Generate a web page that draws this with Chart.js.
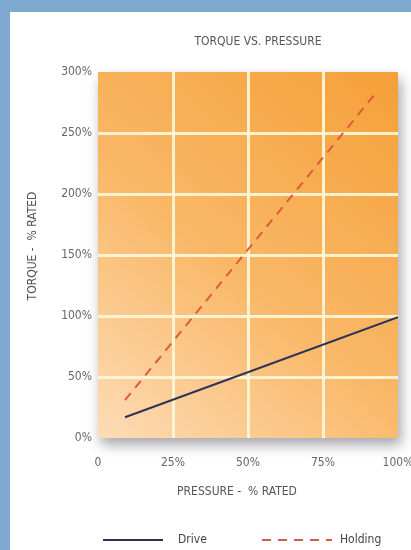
<!DOCTYPE html>
<html>
<head>
<meta charset="utf-8">
<script src="https://cdn.jsdelivr.net/npm/chart.js@4.4.1/dist/chart.umd.min.js"></script>
<style>
  html, body { margin: 0; padding: 0; background: #fff; overflow: hidden; }
  #topbar { position: absolute; left: 0; top: 0; width: 411px; height: 12px; background: #7faad0; }
  #leftbar { position: absolute; left: 0; top: 0; width: 10px; height: 550px; background: #7faad0; }
  #wrap { position: absolute; left: 0; top: 0; width: 411px; height: 550px; }
</style>
</head>
<body>
<div id="topbar"></div>
<div id="leftbar"></div>
<div id="wrap"><canvas id="myChart" width="411" height="550"></canvas></div>
<script>
// values (pressure % rated -> torque % rated)
var drivePressure = [9, 100];
var driveTorque = [17, 99];
var holdPressure = [9, 93];
var holdTorque = [31, 284];
var xTicks = [0, 25, 50, 75, 100];
var yTicks = [0, 50, 100, 150, 200, 250, 300];

var narrow = '"Liberation Sans Narrow", "DejaVu Sans Condensed", "Liberation Sans", sans-serif';
var grey = '#666';

function pts(xs, ys) {
  return xs.map(function(x, i) { return { x: x, y: ys[i] }; });
}

var backdrop = {
  id: 'backdrop',
  beforeDraw: function(chart) {
    var a = chart.chartArea, ctx = chart.ctx;
    ctx.save();
    ctx.shadowColor = 'rgba(60,60,70,0.45)';
    ctx.shadowBlur = 12;
    ctx.shadowOffsetX = 3;
    ctx.shadowOffsetY = 7;
    var g = ctx.createLinearGradient(a.left, a.bottom, a.right, a.top);
    g.addColorStop(0, '#fddcb6');
    g.addColorStop(0.45, '#f9b868');
    g.addColorStop(1, '#f5a038');
    ctx.fillStyle = g;
    ctx.fillRect(a.left, a.top, a.right - a.left, a.bottom - a.top);
    ctx.restore();
  },
  afterDraw: function(chart) {
    var ctx = chart.ctx;
    ctx.save();
    ctx.fillStyle = '#555';
    ctx.textBaseline = 'middle';
    ctx.textAlign = 'center';
    ctx.font = '12px ' + narrow;
    ctx.fillText('TORQUE VS. PRESSURE', 258, 42);
    ctx.fillText('PRESSURE -  % RATED', 237, 492);
    ctx.save();
    ctx.translate(33, 246);
    ctx.rotate(-Math.PI / 2);
    ctx.fillText('TORQUE -  % RATED', 0, 0);
    ctx.restore();

    // legend
    var ds = chart.data.datasets;
    ctx.lineWidth = 2;
    ctx.strokeStyle = ds[0].borderColor;
    ctx.beginPath(); ctx.moveTo(103, 540); ctx.lineTo(163, 540); ctx.stroke();
    ctx.strokeStyle = ds[1].borderColor;
    ctx.setLineDash(ds[1].borderDash);
    ctx.beginPath(); ctx.moveTo(262, 540); ctx.lineTo(332, 540); ctx.stroke();
    ctx.setLineDash([]);
    ctx.textAlign = 'left';
    ctx.fillStyle = '#444';
    ctx.fillText(ds[0].label, 178, 540);
    ctx.fillText(ds[1].label, 340, 540);
    ctx.restore();
  }
};

function gridColor(c) {
  var n = c.scale.ticks.length;
  if (c.index === 0 || c.index === n - 1) return 'rgba(0,0,0,0)';
  return 'rgba(255,246,214,0.95)';
}

new Chart('myChart', {
  type: 'line',
  data: {
    datasets: [{
      label: 'Drive',
      data: pts(drivePressure, driveTorque),
      borderColor: '#2c3258',
      borderWidth: 2,
      pointRadius: 0
    }, {
      label: 'Holding',
      data: pts(holdPressure, holdTorque),
      borderColor: '#df5a3c',
      borderWidth: 2,
      borderDash: [9, 7],
      pointRadius: 0
    }]
  },
  options: {
    responsive: false,
    animation: false,
    layout: { padding: { left: 0, right: 13, top: 72, bottom: 0 } },
    plugins: { legend: { display: false }, title: { display: false }, tooltip: { enabled: false } },
    scales: {
      x: {
        type: 'linear', min: 0, max: 100,
        afterBuildTicks: function(s) { s.ticks = xTicks.map(function(v) { return { value: v }; }); },
        afterFit: function(s) { s.height = 112; s.paddingLeft = 0; s.paddingRight = 0; },
        grid: { color: gridColor, lineWidth: 3, drawTicks: false },
        border: { display: false },
        ticks: {
          padding: 18, color: grey, maxRotation: 0,
          font: { family: narrow, size: 12 },
          callback: function(v) { return v === 0 ? '0' : v + '%'; }
        }
      },
      y: {
        min: 0, max: 300,
        afterBuildTicks: function(s) { s.ticks = yTicks.map(function(v) { return { value: v }; }); },
        afterFit: function(s) { s.width = 98; s.paddingTop = 0; s.paddingBottom = 0; },
        grid: { color: gridColor, lineWidth: 3, drawTicks: false },
        border: { display: false },
        ticks: {
          padding: 6, color: grey,
          font: { family: narrow, size: 12 },
          callback: function(v) { return v + '%'; }
        }
      }
    }
  },
  plugins: [backdrop]
});
</script>
</body>
</html>
